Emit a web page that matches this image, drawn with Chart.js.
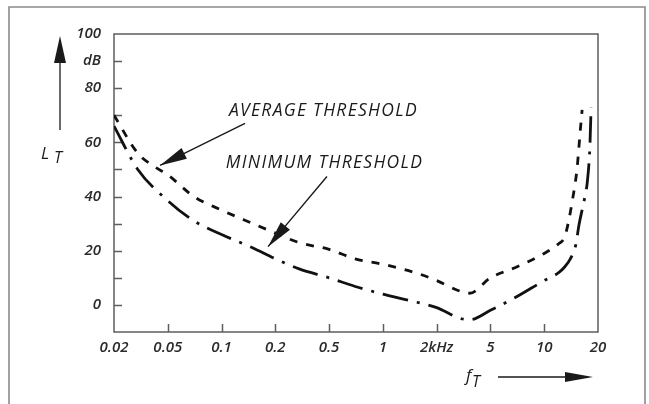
<!DOCTYPE html>
<html>
<head>
<meta charset="utf-8">
<script src="https://cdn.jsdelivr.net/npm/chart.js@4/dist/chart.umd.min.js"></script>
<style>
  html, body { margin: 0; padding: 0; background: #fff; }
  #wrap { width: 649px; height: 404px; }
</style>
</head>
<body>
<div id="wrap"><canvas id="c" width="649" height="404"></canvas></div>
<script>
// Frequency axis: nominal tick frequencies (kHz), drawn equally spaced
const tickFreqs  = [0.02, 0.05, 0.1, 0.2, 0.5, 1, 2, 5, 10, 20];
const tickLabels = ['0.02', '0.05', '0.1', '0.2', '0.5', '1', '2kHz', '5', '10', '20'];

// Level axis labels (dB)
const levelTicks      = [100, 90, 80, 60, 40, 20, 0];
const levelTickLabels = ['100', 'dB', '80', '60', '40', '20', '0'];

// Average threshold of hearing
const avgFreq  = [0.02, 0.03, 0.04, 0.05, 0.07, 0.1, 0.15, 0.2, 0.3, 0.5, 0.7, 1, 1.5, 2, 3, 3.5, 5, 7, 10, 12, 13, 13.6, 14.5, 15.25, 15.9, 16.3];
const avgLevel = [70, 56, 51, 48, 40, 35, 30, 26.5, 23, 20.5, 17, 15, 12, 9, 5, 4.3, 10, 14, 19, 22.5, 25, 30, 40, 50, 64, 72];

// Minimum threshold of hearing
const minFreq  = [0.02, 0.03, 0.05, 0.07, 0.1, 0.15, 0.2, 0.3, 0.5, 0.7, 1, 1.5, 2, 3, 3.5, 5, 7, 10, 12, 13, 14, 15, 15.65, 16.9, 17.4, 18, 18.3];
const minLevel = [66, 50, 38.5, 31, 26, 21, 17, 13.3, 10, 6.8, 4, 1.2, -1, -5, -5.5, -2, 3, 9, 11.8, 14, 17, 22, 29.5, 40, 45, 58, 73];

// Callout texts and arrows, anchored in (kHz, dB)
const notes = [
  { text: 'AVERAGE THRESHOLD', f: 0.11,   level: 69.6 },
  { text: 'MINIMUM THRESHOLD', f: 0.1057, level: 50.7 }
];
const pointers = [
  { fromF: 0.1353, fromL: 67.0, toF: 0.0438, toL: 51.5 },
  { fromF: 0.482,  fromL: 47.4, toF: 0.182,  toL: 21.5 }
];

// Map a frequency onto the equally spaced tick positions (log within each step)
function freqToPos(f) {
  for (let i = 0; i < tickFreqs.length - 1; i++) {
    const a = tickFreqs[i], b = tickFreqs[i + 1];
    if (f <= b || i === tickFreqs.length - 2) {
      return i + Math.log(f / a) / Math.log(b / a);
    }
  }
  return 0;
}
const toPoints = (fs, ls) => fs.map((f, i) => ({ x: freqToPos(f), y: ls[i] }));

const FONT = '"Open Sans", Lato, "DejaVu Sans", sans-serif';
const INK = '#1a1a1a';
const AXIS = '#5e5e5e';

function arrowHead(ctx, x1, y1, x2, y2, len, half) {
  const ang = Math.atan2(y2 - y1, x2 - x1);
  const bx = x2 - len * Math.cos(ang), by = y2 - len * Math.sin(ang);
  const nx = -Math.sin(ang) * half, ny = Math.cos(ang) * half;
  ctx.beginPath();
  ctx.moveTo(x2, y2);
  ctx.lineTo(bx + nx, by + ny);
  ctx.lineTo(bx - nx, by - ny);
  ctx.closePath();
  ctx.fill();
}

const decor = {
  id: 'decor',
  beforeDatasetsDraw(chart) {
    const { ctx, chartArea: a, scales: { x, y } } = chart;
    ctx.save();
    // outer frame
    ctx.strokeStyle = '#8a8a8a';
    ctx.lineWidth = 1.6;
    ctx.beginPath();
    ctx.moveTo(9, 410); ctx.lineTo(9, 7); ctx.lineTo(645, 7); ctx.lineTo(645, 410);
    ctx.stroke();
    // plot box
    ctx.strokeStyle = AXIS;
    ctx.lineWidth = 1.5;
    ctx.strokeRect(a.left, a.top, a.right - a.left, a.bottom - a.top);
    // inward tick marks
    ctx.beginPath();
    for (let v = 0; v <= 90; v += 10) {
      const py = Math.round(y.getPixelForValue(v)) + 0.5;
      ctx.moveTo(a.left, py); ctx.lineTo(a.left + 8, py);
    }
    for (let i = 1; i < tickFreqs.length - 1; i++) {
      const px = Math.round(x.getPixelForValue(i)) + 0.5;
      ctx.moveTo(px, a.bottom); ctx.lineTo(px, a.bottom - 8);
    }
    ctx.stroke();
    ctx.restore();
  },
  afterDatasetsDraw(chart) {
    const { ctx, chartArea: a, scales: { x, y } } = chart;
    ctx.save();
    ctx.fillStyle = INK;
    ctx.strokeStyle = INK;
    // callout texts
    ctx.font = 'italic 17.5px ' + FONT;
    ctx.letterSpacing = '1.3px';
    ctx.textBaseline = 'alphabetic';
    ctx.textAlign = 'left';
    notes.forEach(n => {
      ctx.fillText(n.text, x.getPixelForValue(freqToPos(n.f)), y.getPixelForValue(n.level));
    });
    ctx.letterSpacing = '0px';
    // callout arrows
    ctx.lineWidth = 1.4;
    pointers.forEach(p => {
      const x1 = x.getPixelForValue(freqToPos(p.fromF)), y1 = y.getPixelForValue(p.fromL);
      const x2 = x.getPixelForValue(freqToPos(p.toF)),   y2 = y.getPixelForValue(p.toL);
      ctx.beginPath(); ctx.moveTo(x1, y1); ctx.lineTo(x2, y2); ctx.stroke();
      arrowHead(ctx, x1, y1, x2, y2, 27, 6);
    });
    // level axis arrow with L_T
    ctx.lineWidth = 1.3;
    ctx.beginPath(); ctx.moveTo(60, 130); ctx.lineTo(60, 40); ctx.stroke();
    arrowHead(ctx, 60, 130, 60, 36, 27, 6);
    ctx.font = 'italic 17px ' + FONT;
    ctx.fillText('L', 41, 159);
    ctx.font = 'italic 16px ' + FONT;
    ctx.fillText('T', 54, 163);
    // frequency axis arrow with f_T
    ctx.beginPath(); ctx.moveTo(498, 377); ctx.lineTo(588, 377); ctx.stroke();
    arrowHead(ctx, 498, 377, 593, 377, 28, 5);
    ctx.font = 'italic 17px ' + FONT;
    ctx.fillText('f', 466, 381);
    ctx.font = 'italic 16px ' + FONT;
    ctx.fillText('T', 472, 387);
    ctx.restore();
  }
};

new Chart(document.getElementById('c'), {
  type: 'line',
  data: {
    datasets: [
      {
        label: 'AVERAGE THRESHOLD',
        data: toPoints(avgFreq, avgLevel),
        borderColor: '#111',
        borderWidth: 2.8,
        borderDash: [8, 9],
        pointRadius: 0,
        cubicInterpolationMode: 'monotone',
        fill: false
      },
      {
        label: 'MINIMUM THRESHOLD',
        data: toPoints(minFreq, minLevel),
        borderColor: '#111',
        borderWidth: 2.8,
        borderDash: [26, 9, 3, 9],
        pointRadius: 0,
        cubicInterpolationMode: 'monotone',
        fill: false
      }
    ]
  },
  options: {
    responsive: false,
    animation: false,
    layout: { padding: { left: 0, right: 51, top: 34, bottom: 0 } },
    plugins: { legend: { display: false }, tooltip: { enabled: false } },
    scales: {
      x: {
        type: 'linear',
        min: 0,
        max: tickFreqs.length - 1,
        afterBuildTicks: s => { s.ticks = tickFreqs.map((f, i) => ({ value: i })); },
        afterFit: s => { s.height = 72; },
        grid: { display: false, drawTicks: false },
        border: { display: false },
        ticks: {
          padding: 7,
          maxRotation: 0,
          autoSkip: false,
          color: '#2a2a2a',
          font: { family: FONT, size: 15, style: 'italic', weight: '600' },
          callback: v => tickLabels[v]
        }
      },
      y: {
        min: -10,
        max: 100,
        afterBuildTicks: s => { s.ticks = levelTicks.map(v => ({ value: v })); },
        afterFit: s => { s.width = 114; },
        grid: { display: false, drawTicks: false },
        border: { display: false },
        ticks: {
          padding: 13,
          autoSkip: false,
          color: '#2a2a2a',
          font: { family: FONT, size: 15, style: 'italic', weight: '600' },
          callback: v => levelTickLabels[levelTicks.indexOf(v)]
        }
      }
    }
  },
  plugins: [decor]
});
</script>
</body>
</html>
